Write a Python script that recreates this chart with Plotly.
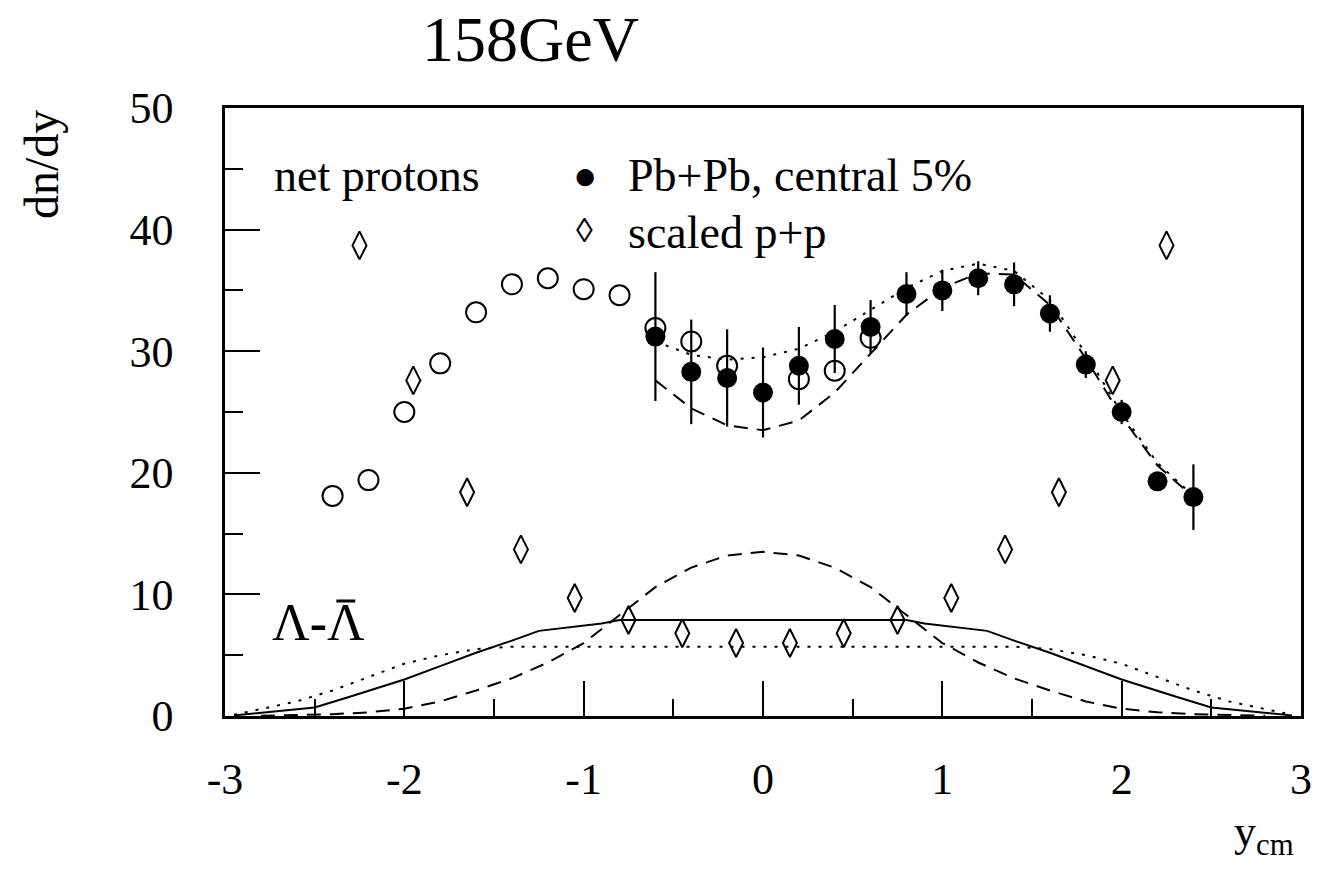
import plotly.graph_objects as go

# ---------------- data ----------------
# Pb+Pb central 5% net protons (filled circles)
pb_x = [-0.6, -0.4, -0.2, 0.0, 0.2, 0.4, 0.6, 0.8, 1.0, 1.2, 1.4, 1.6, 1.8, 2.0, 2.2, 2.4]
pb_y = [31.2, 28.3, 27.8, 26.6, 28.8, 31.0, 32.0, 34.7, 35.0, 36.0, 35.5, 33.1, 28.9, 25.0, 19.3, 18.0]
pb_err = [5.3, 4.3, 4.0, 3.7, 3.2, 2.8, 2.2, 1.8, 1.7, 1.4, 1.8, 1.5, 1.1, 1.0, 0.7, 2.7]

# reflected points (open circles)
refl_x = [-2.4, -2.2, -2.0, -1.8, -1.6, -1.4, -1.2, -1.0, -0.8, -0.6, -0.4, -0.2, 0.2, 0.4, 0.6]
refl_y = [18.1, 19.4, 25.0, 29.0, 33.2, 35.5, 36.0, 35.1, 34.6, 31.9, 30.8, 28.8, 27.7, 28.4, 31.1]

# scaled p+p (open diamonds)
pp_x = [-2.25, -1.95, -1.65, -1.35, -1.05, -0.75, -0.45, -0.15, 0.15, 0.45, 0.75, 1.05, 1.35, 1.65, 1.95, 2.25]
pp_y = [38.7, 27.6, 18.4, 13.7, 9.7, 7.9, 6.8, 6.0, 6.0, 6.8, 7.9, 9.7, 13.7, 18.4, 27.6, 38.7]

# net-proton model curves
np_curve_x = [-0.6, -0.4, -0.2, 0.0, 0.2, 0.4, 0.6, 0.8, 1.0, 1.2, 1.4, 1.6, 1.8, 2.0, 2.2, 2.4]
np_dashed_y = [27.6, 25.3, 23.9, 23.5, 24.3, 26.6, 29.8, 33.0, 35.2, 36.4, 36.3, 33.8, 29.4, 24.6, 20.6, 18.0]
np_dotted_y = [30.8, 29.7, 29.3, 29.5, 30.2, 31.6, 33.4, 35.2, 36.6, 37.2, 36.6, 34.2, 29.8, 24.9, 20.8, 18.1]

# Lambda - anti-Lambda curves
lam_solid_x = [-2.95, -2.5, -2.3, -2.0, -1.8, -1.6, -1.4, -1.25, -0.9, -0.8, 0.8, 0.9, 1.25, 1.4, 1.6, 1.8, 2.0, 2.3, 2.5, 2.95]
lam_solid_y = [0.05, 0.7, 1.6, 3.0, 4.1, 5.2, 6.2, 7.0, 7.6, 7.9, 7.9, 7.6, 7.0, 6.2, 5.2, 4.1, 3.0, 1.6, 0.7, 0.05]

lam_dot_x = [-2.95, -2.6, -2.4, -2.2, -2.0, -1.8, -1.6, -1.4, 1.4, 1.6, 1.8, 2.0, 2.2, 2.4, 2.6, 2.95]
lam_dot_y = [0.1, 1.2, 2.1, 3.2, 4.3, 5.0, 5.5, 5.7, 5.7, 5.5, 5.0, 4.3, 3.2, 2.1, 1.2, 0.1]

lam_dash_x = [-2.8, -2.4, -2.2, -2.0, -1.8, -1.6, -1.4, -1.2, -1.0, -0.8, -0.6, -0.4, -0.2, 0.0,
              0.2, 0.4, 0.6, 0.8, 1.0, 1.2, 1.4, 1.6, 1.8, 2.0, 2.2, 2.4, 2.8]
lam_dash_y = [0.02, 0.15, 0.3, 0.6, 1.2, 2.1, 3.1, 4.4, 6.0, 8.3, 10.6, 12.2, 13.2, 13.5,
              13.2, 12.2, 10.6, 8.3, 6.0, 4.4, 3.1, 2.1, 1.2, 0.6, 0.3, 0.15, 0.02]

x_tickvals = [-3, -2, -1, 0, 1, 2, 3]
x_ticktext = ["-3", "-2", "-1", "0", "1", "2", "3"]
y_tickvals = [0, 10, 20, 30, 40, 50]
y_ticktext = ["0", "10", "20", "30", "40", "50"]

FONT = "Liberation Serif"
BLACK = "#000000"
DASH = "14px,9px"
DOT = "3px,8px"

fig = go.Figure()

line_w = 2.0
fig.add_trace(go.Scatter(x=np_curve_x, y=np_dashed_y, mode="lines",
                         line=dict(color=BLACK, width=line_w, dash=DASH), hoverinfo="skip"))
fig.add_trace(go.Scatter(x=np_curve_x, y=np_dotted_y, mode="lines",
                         line=dict(color=BLACK, width=line_w, dash=DOT), hoverinfo="skip"))
fig.add_trace(go.Scatter(x=lam_solid_x, y=lam_solid_y, mode="lines",
                         line=dict(color=BLACK, width=line_w), hoverinfo="skip"))
fig.add_trace(go.Scatter(x=lam_dot_x, y=lam_dot_y, mode="lines",
                         line=dict(color=BLACK, width=line_w, dash=DOT), hoverinfo="skip"))
fig.add_trace(go.Scatter(x=lam_dash_x, y=lam_dash_y, mode="lines",
                         line=dict(color=BLACK, width=line_w, dash=DASH), hoverinfo="skip"))

fig.add_trace(go.Scatter(x=refl_x, y=refl_y, mode="markers",
                         marker=dict(symbol="circle-open", size=20, color=BLACK, line=dict(width=2))))
fig.add_trace(go.Scatter(x=pb_x, y=pb_y, mode="markers",
                         error_y=dict(type="data", array=pb_err, color=BLACK, thickness=2.2, width=0),
                         marker=dict(symbol="circle", size=20, color=BLACK)))
fig.add_trace(go.Scatter(x=pp_x, y=pp_y, mode="markers",
                         marker=dict(symbol="diamond-tall-open", size=20, color=BLACK, line=dict(width=2))))

axis_common = dict(
    showline=True, linewidth=2.5, linecolor=BLACK, mirror=True,
    showgrid=False, zeroline=False, ticks="inside", tickwidth=2, tickcolor=BLACK,
    tickfont=dict(family=FONT, size=44, color=BLACK),
)
fig.update_xaxes(range=[-3, 3], tickmode="array", tickvals=x_tickvals, ticktext=x_ticktext,
                 ticklen=35, ticklabelstandoff=22,
                 minor=dict(dtick=0.5, ticks="inside", ticklen=17, tickwidth=2, tickcolor=BLACK),
                 **axis_common)
fig.update_yaxes(range=[0, 50], tickmode="array", tickvals=y_tickvals, ticktext=y_ticktext,
                 ticklen=35, ticklabelstandoff=40,
                 minor=dict(dtick=5, ticks="inside", ticklen=18, tickwidth=2, tickcolor=BLACK),
                 **axis_common)

L, R, T, B = 225, 17, 108, 159
W, H = 1324, 875
pw, ph = W - L - R, H - T - B


def px(xp):
    return (xp - L) / pw


def py(yp):
    return (H - B - yp) / ph


def note(text, xp, yp, size, xanchor="center", yanchor="middle", angle=0):
    fig.add_annotation(text=text, x=px(xp), y=py(yp), xref="paper", yref="paper",
                       showarrow=False, xanchor=xanchor, yanchor=yanchor, textangle=angle,
                       font=dict(family=FONT, size=size, color=BLACK))


note("158GeV", 532, 40, 64)
note("dn/dy", 40, 165, 48, angle=-90)
note("y<sub>cm</sub>", 1270, 834, 44)
note("net protons", 272, 175, 46, xanchor="left")
note("Pb+Pb, central 5%", 628, 175, 46, xanchor="left")
note("scaled p+p", 628, 232, 46, xanchor="left")
note("●", 587, 176, 40)
note("◊", 587, 230, 34)
note("Λ<b>-</b>Λ", 270, 622, 52, xanchor="left")
# bar of the anti-Lambda symbol
fig.add_shape(type="line", xref="paper", yref="paper",
              x0=px(337), x1=px(356), y0=py(601), y1=py(601),
              line=dict(color=BLACK, width=3))

fig.update_layout(width=W, height=H, margin=dict(l=L, r=R, t=T, b=B),
                  plot_bgcolor="white", paper_bgcolor="white", showlegend=False,
                  font=dict(family=FONT, color=BLACK))

fig.write_html("out.html")
